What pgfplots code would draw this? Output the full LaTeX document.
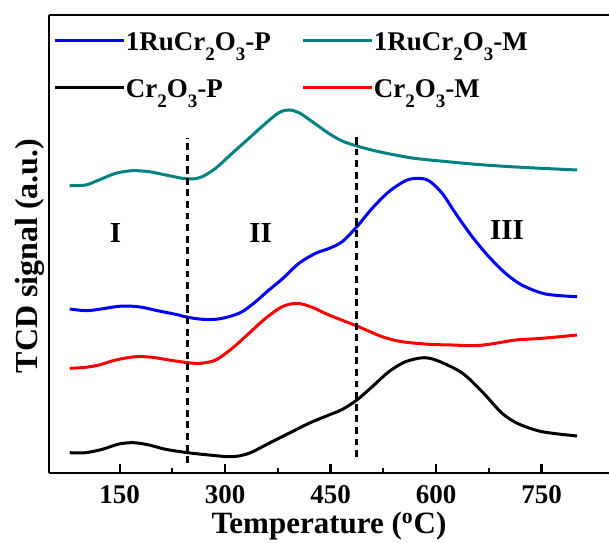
\documentclass[border=0pt]{standalone}
\usepackage{fontspec}
\setmainfont{Liberation Serif}
\usepackage{pgfplots}
\pgfplotsset{compat=1.18}

\definecolor{tealc}{RGB}{0,130,128}
\newcommand\sub[1]{\raisebox{-0.38em}{\fontsize{9.5}{10}\selectfont #1}}

\begin{document}
\begin{tikzpicture}
\begin{axis}[
  scale only axis,
  width=280pt, height=229pt,
  xmin=49.5, xmax=846,
  ymin=0, ymax=458,
  axis x line*=box,
  axis y line*=left,
  axis line style={line width=1.2pt},
  xtick={150,300,450,600,750},
  minor x tick num=1,
  ytick=\empty,
  xtick pos=bottom,
  tick align=inside,
  major tick length=4.7pt,
  minor tick length=2.5pt,
  every tick/.style={black, line width=1.1pt},
  /pgf/number format/assume math mode=true,
  xticklabel style={font=\bfseries\fontsize{13.5}{16}\selectfont, yshift=-2.5pt},
  xlabel={Temperature (\textsuperscript{o}C)},
  xlabel style={font=\bfseries\fontsize{15.5}{18}\selectfont, at={(axis description cs:0.5,-0.133)}, anchor=base},
  ylabel={TCD signal (a.u.)},
  ylabel style={font=\bfseries\fontsize{16}{19}\selectfont, at={(axis description cs:-0.034,0.474)}, anchor=center},
  legend columns=2,
  legend image code/.code={\draw[#1] (0pt,0pt) -- (34.5pt,0pt);},
  legend cell align=left,
  legend style={draw=none, fill=none, inner sep=0pt, outer sep=0pt,
    at={(axis description cs:0.0089,0.967)}, anchor=north west,
    font=\bfseries\fontsize{13.5}{16}\selectfont,
    nodes={inner sep=0pt, text height=10pt, text depth=0pt},
    row sep=13.5pt,
    /tikz/every even column/.append style={text width=88pt}},
  every axis plot/.append style={line width=1.5pt, smooth},
]
\addplot[blue] coordinates {
(79,164) (101.7,162.3) (120.6,163.7) (144.3,166.3) (160.8,167) (182.1,165.7) (205.9,162) (229.6,158.7) (247.1,155.7) (267.4,153.7) (286.5,153.7) (305.4,156.3) (324.3,161.3) (343.4,171.3) (362.3,183) (381.2,194) (405,209.7) (428.7,219.7) (447.6,224.5) (466.5,231.3) (487.4,246.3) (509.2,264.7) (532.9,281.3) (556.6,292.3) (573.2,294.7) (589.8,292.3) (608.7,279.7) (627.7,259.7) (651.4,236.3) (675.1,216.3) (698.8,199.7) (722,188) (755.7,179) (800.6,176.3)
};
\addlegendentry{1RuCr\sub{2}O\sub{3}-P}
\addplot[tealc] coordinates {
(79,287.3) (101.7,288) (120.6,293) (144.3,299.7) (168,302.3) (191.7,301.3) (215.4,298) (239,294.7) (253.2,294) (267.4,296.3) (286.5,304.7) (310,319.7) (333.9,334.7) (357.6,349.7) (376.5,360.3) (390.7,363) (405,360.3) (423.9,351.3) (447.6,339.5) (466.5,332) (487.4,327) (518.7,321.3) (566,315) (613.5,311.5) (660,308.5) (708,306.2) (755,304.5) (800.6,303)
};
\addlegendentry{1RuCr\sub{2}O\sub{3}-M}
\addplot[black] coordinates {
(79,20.3) (101.7,20.3) (125.3,23.7) (149,29) (170.3,30.3) (191.7,28) (215.4,23.7) (247.1,20.3) (277,18) (310.1,16.3) (333.9,19.7) (362.3,29.7) (390.7,39.7) (419.2,49.7) (447.6,58) (466.5,63.5) (487.4,73) (509.2,86.3) (532.9,101.3) (556.6,111.3) (582.7,115.3) (604,111.8) (637.2,100) (665.6,81.3) (694,59.7) (717.8,49) (750.9,41.3) (800.6,37)
};
\addlegendentry{Cr\sub{2}O\sub{3}-P}
\addplot[red] coordinates {
(79,104.7) (101.7,105.7) (120.6,108) (144.3,113) (172.7,116.3) (196.4,115.7) (220.1,113) (247.1,110.3) (265.2,109.7) (286.5,113) (310.1,124.7) (333.9,139.7) (357.6,154.7) (381.2,166.3) (402.5,169.7) (423.9,165.7) (447.6,158) (487.4,147) (523.4,136.3) (551.8,131.3) (589.8,128.7) (622.9,128) (656.2,127.3) (684.6,129.7) (713,133) (750.9,134.7) (800.6,138)
};
\addlegendentry{Cr\sub{2}O\sub{3}-M}
% region boundaries
\addplot[black, line width=1.5pt, dash pattern=on 3.4pt off 2.4pt, forget plot] coordinates {(247,10) (247,335)};
\addplot[black, line width=1.5pt, dash pattern=on 3.4pt off 2.4pt, forget plot] coordinates {(487.4,16) (487.4,340)};
\node[font=\bfseries\fontsize{14.5}{17}\selectfont] at (axis cs:144,240) {I};
\node[font=\bfseries\fontsize{14.5}{17}\selectfont] at (axis cs:350.5,240) {II};
\node[font=\bfseries\fontsize{14.5}{17}\selectfont] at (axis cs:701,243) {III};
\end{axis}
\pgfresetboundingbox
\path[use as bounding box] ([shift={(-24.5pt,-34.5pt)}]current axis.south west) rectangle ([shift={(0pt,7.5pt)}]current axis.north east);
\end{tikzpicture}
\end{document}
